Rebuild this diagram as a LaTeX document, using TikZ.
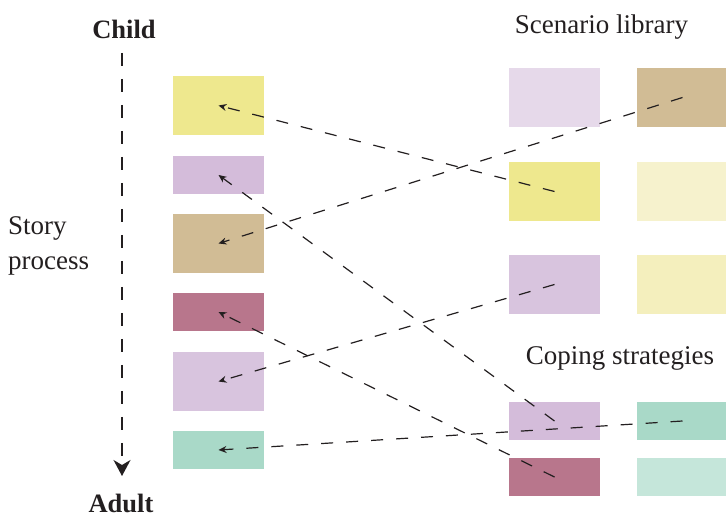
\documentclass[tikz,border=0pt]{standalone}
\usepackage{fontspec}
\setmainfont{Liberation Serif}
\usetikzlibrary{arrows.meta}
\definecolor{ink}{HTML}{231F20}
\definecolor{cYel}{HTML}{EEE88E}
\definecolor{cPur}{HTML}{D4BCDA}
\definecolor{cPurL}{HTML}{D8C4DE}
\definecolor{cLav}{HTML}{E6D9EA}
\definecolor{cTan}{HTML}{D1BC95}
\definecolor{cMau}{HTML}{B8768C}
\definecolor{cTeal}{HTML}{A9D9C8}
\definecolor{cTealL}{HTML}{C5E6DA}
\definecolor{cPaleY}{HTML}{F6F2CD}
\definecolor{cPaleY2}{HTML}{F4EFBD}
\begin{document}
\begin{tikzpicture}[x=1pt,y=-1pt,
  tall/.style={inner sep=0pt,minimum width=91pt,minimum height=59pt,draw=none},
  short/.style={inner sep=0pt,minimum width=91pt,minimum height=38pt,draw=none},
  link/.style={draw=ink,line width=1.2pt,dash pattern=on 12pt off 13pt,-{Stealth[length=8pt,width=7pt]}},
  axis/.style={draw=ink,line width=1.4pt,dash pattern=on 13pt off 13pt,-{Stealth[length=16pt,width=17pt,inset=5pt]}},
  lbl/.style={font=\fontsize{27}{30}\selectfont,text=ink,inner sep=0pt},
  blbl/.style={font=\fontsize{26.5}{30}\selectfont\bfseries,text=ink,inner sep=0pt}]
\useasboundingbox (0,0) rectangle (726,518);
% left column
\node[tall,fill=cYel] (L1) at (218.5,105.5) {};
\node[short,fill=cPur] (L2) at (218.5,175) {};
\node[tall,fill=cTan] (L3) at (218.5,243.5) {};
\node[short,fill=cMau] (L4) at (218.5,312) {};
\node[tall,fill=cPurL] (L5) at (218.5,381.5) {};
\node[short,fill=cTeal] (L6) at (218.5,450) {};
% scenario library
\node[tall,fill=cLav] (R1a) at (554.5,97.5) {};
\node[tall,fill=cTan] (R1b) at (682.5,97.5) {};
\node[tall,fill=cYel] (R2a) at (554.5,191.5) {};
\node[tall,fill=cPaleY] (R2b) at (682.5,191.5) {};
\node[tall,fill=cPurL] (R3a) at (554.5,284.5) {};
\node[tall,fill=cPaleY2] (R3b) at (682.5,284.5) {};
% coping strategies
\node[short,fill=cPur] (R4a) at (554.5,421) {};
\node[short,fill=cTeal] (R4b) at (682.5,421) {};
\node[short,fill=cMau] (R5a) at (554.5,477) {};
\node[short,fill=cTealL] (R5b) at (682.5,477) {};
% labels
\node[blbl,anchor=base] (child) at (124,39) {Child};
\node[blbl,anchor=base] (adult) at (121,513) {Adult};
\node[lbl,anchor=base west] (story1) at (8,235) {Story};
\node[lbl,anchor=base west] (story2) at (8,270) {process};
\node[lbl,anchor=base] (scen) at (601.5,34) {Scenario library};
\node[lbl,anchor=base] (cope) at (620,365) {Coping strategies};
% axis
\coordinate (axtop) at (122,53);
\coordinate (axbot) at (122,476);
\draw[axis] (axtop) -- (axbot);
% links
\draw[link] (R2a.center) -- (L1.center);
\draw[link] (R1b.center) -- (L3.center);
\draw[link] (R3a.center) -- (L5.center);
\draw[link] (R4a.center) -- (L2.center);
\draw[link] (R5a.center) -- (L4.center);
\draw[link] (R4b.center) -- (L6.center);
\end{tikzpicture}
\end{document}
